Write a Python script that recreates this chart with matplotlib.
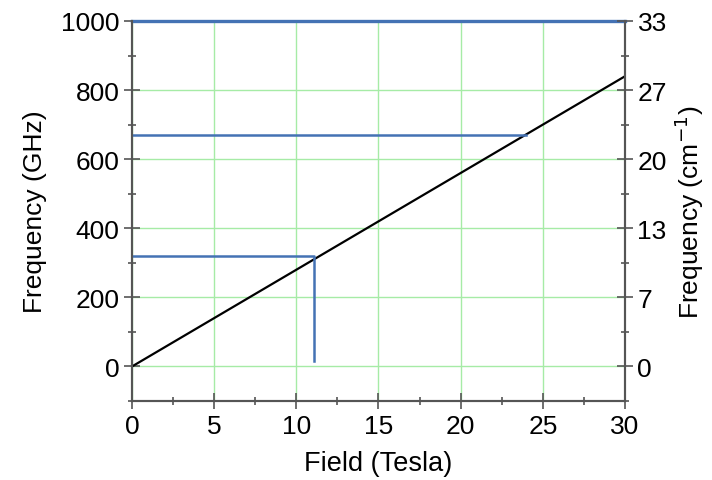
import numpy as np
import matplotlib.pyplot as plt
from matplotlib.ticker import MultipleLocator

plt.rcParams['font.family'] = ['Liberation Sans', 'DejaVu Sans']

# field (T) vs frequency (GHz), g ~ 2
field = [0, 30]
freq = [0, 840]

# marker lines
mark1_x = [0, 11.05, 11.05]
mark1_y = [320, 320, 15]
mark2_x = [0, 24]
mark2_y = [670, 670]
top_x = [0, 30]
top_y = [1000, 1000]

ghz_ticks = [0, 200, 400, 600, 800, 1000]
cm_labels = ['0', '7', '13', '20', '27', '33']

spine_col = '#555555'
blue = '#4472b4'

fig = plt.figure(figsize=(7.12, 4.81), dpi=100)
ax = fig.add_axes([0.1854, 0.1642, 0.6924, 0.7901])

ax.set_xlim(0, 30)
ax.set_ylim(-100, 1000)
ax.xaxis.set_major_locator(MultipleLocator(5))
ax.xaxis.set_minor_locator(MultipleLocator(2.5))
ax.set_yticks(ghz_ticks)
ax.yaxis.set_minor_locator(MultipleLocator(100))

ax.grid(True, which='major', color='#a6eba6', linewidth=1.0, zorder=0)

ax.plot(field, freq, color='black', linewidth=1.6, zorder=3)
ax.plot(mark1_x, mark1_y, color=blue, linewidth=1.8, zorder=4)
ax.plot(mark2_x, mark2_y, color=blue, linewidth=1.8, zorder=4)
ax.plot(top_x, top_y, color=blue, linewidth=2.4, zorder=5, clip_on=False)

ax2 = ax.twinx()
ax2.set_ylim(ax.get_ylim())
ax2.set_yticks(ghz_ticks)
ax2.set_yticklabels(cm_labels)
ax2.yaxis.set_minor_locator(MultipleLocator(100))

for a in (ax, ax2):
    a.spines['top'].set_visible(False)
    for s in ('left', 'right', 'bottom'):
        a.spines[s].set_color(spine_col)
        a.spines[s].set_linewidth(1.5)
    a.tick_params(which='major', direction='inout', length=12, width=1.2,
                  color=spine_col, labelsize=19, pad=3)
    a.tick_params(which='minor', direction='inout', length=6, width=1.2,
                  color=spine_col)

ax.set_xlabel('Field (Tesla)', fontsize=19.5, labelpad=9)
ax.set_ylabel('Frequency (GHz)', fontsize=19, labelpad=10)
ax2.set_ylabel('Frequency (cm$^{-1}$)', fontsize=19, labelpad=4)

fig.savefig('out.png', dpi=100)
